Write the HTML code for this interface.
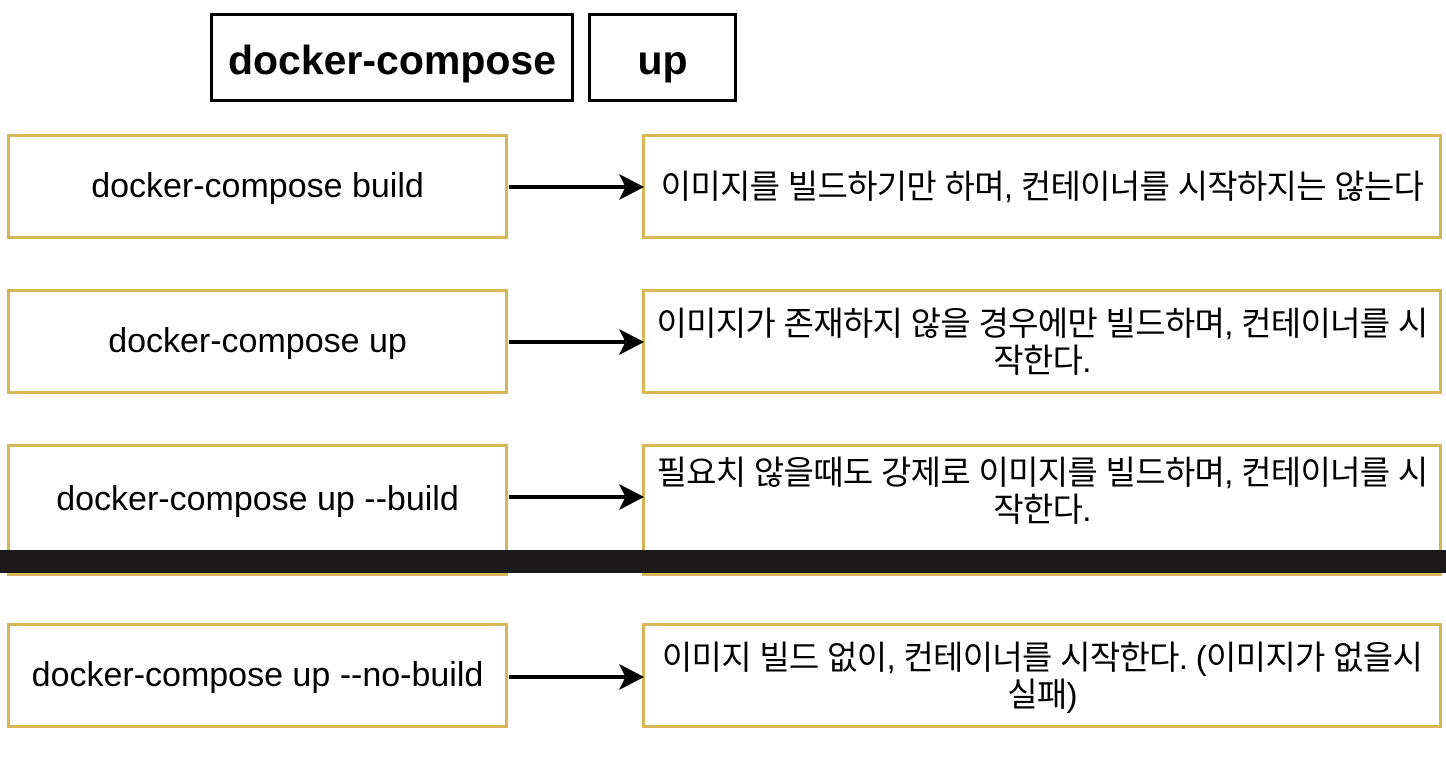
<!DOCTYPE html>
<html><head><meta charset="utf-8"><style>
body{margin:0;width:1446px;height:762px;background:#fff;position:relative;overflow:hidden;font-family:"Liberation Sans","Noto Sans CJK KR",sans-serif;}
.t{position:absolute;border:3px solid #000;box-sizing:border-box;display:flex;align-items:center;justify-content:center;font-weight:bold;font-size:41px;padding-top:6px;}
.b{position:absolute;border:3px solid #d6b656;box-sizing:border-box;background:#fff;display:flex;align-items:center;justify-content:center;text-align:center;font-size:34px;color:#000;white-space:nowrap;}
.l{left:7px;width:501px;height:105px;}
.r{left:642px;width:800px;height:105px;font-family:"Liberation Sans","Noto Sans CJK KR",sans-serif;font-size:33px;line-height:37px;letter-spacing:-0.7px;}
</style></head><body>
<div class="t" style="left:210px;top:13px;width:364px;height:89px;">docker-compose</div>
<div class="t" style="left:588px;top:13px;width:149px;height:89px;">up</div>

<div class="b l" style="top:134px;">docker-compose build</div>
<div class="b r" style="top:134px;">이미지를 빌드하기만 하며, 컨테이너를 시작하지는 않는다</div>

<div class="b l" style="top:289px;">docker-compose up</div>
<div class="b r" style="top:289px;">이미지가 존재하지 않을 경우에만 빌드하며, 컨테이너를 시<br>작한다.</div>

<div class="b l" style="top:444px;height:132px;align-items:flex-start;padding-top:33px;">docker-compose up --build</div>
<div class="b r" style="top:444px;height:132px;align-items:flex-start;padding-top:7px;">필요치 않을때도 강제로 이미지를 빌드하며, 컨테이너를 시<br>작한다.</div>
<div style="position:absolute;left:0;top:550px;width:1446px;height:23px;background:#1c191a;"></div>

<div class="b l" style="top:623px;">docker-compose up --no-build</div>
<div class="b r" style="top:623px;">이미지 빌드 없이, 컨테이너를 시작한다. (이미지가 없을시<br>실패)</div>

<svg width="1446" height="762" style="position:absolute;left:0;top:0;pointer-events:none">
<g fill="#000" stroke="#000">
<line x1="509" y1="187" x2="625" y2="187" stroke-width="4"/><polygon points="643,187 620,175 626,187 620,199"/>
<line x1="509" y1="342" x2="625" y2="342" stroke-width="4"/><polygon points="643,342 620,330 626,342 620,354"/>
<line x1="509" y1="497" x2="625" y2="497" stroke-width="4"/><polygon points="643,497 620,485 626,497 620,509"/>
<line x1="509" y1="677" x2="625" y2="677" stroke-width="4"/><polygon points="643,677 620,665 626,677 620,689"/>
</g></svg>
</body></html>
